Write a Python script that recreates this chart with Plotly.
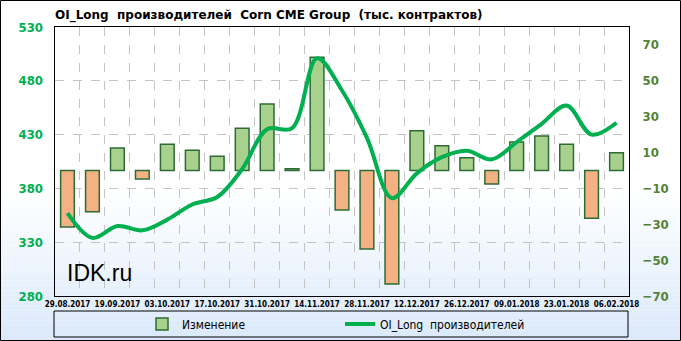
import plotly.graph_objects as go

# ---- data ----
dates = ["29.08.2017", "12.09.2017", "19.09.2017", "26.09.2017", "03.10.2017", "10.10.2017",
         "17.10.2017", "24.10.2017", "31.10.2017", "07.11.2017", "14.11.2017", "21.11.2017",
         "28.11.2017", "05.12.2017", "12.12.2017", "19.12.2017", "26.12.2017", "02.01.2018",
         "09.01.2018", "16.01.2018", "23.01.2018", "30.01.2018", "06.02.2018"]
change = [-31.5, -23.0, 12.5, -4.7, 14.6, 11.3, 7.9, 23.5, 37.1, 1.0, 63.1, -22.0,
          -43.8, -63.3, 22.2, 13.8, 7.1, -7.5, 15.9, 19.2, 14.6, -26.7, 9.9]
oi_long = [357, 334, 345, 341, 351, 365, 372, 398, 435, 436, 501, 471,
           427, 371, 394, 409, 415, 407, 423, 440, 457, 430, 441]
left_ticks = [280, 330, 380, 430, 480, 530]
right_ticks = [-70, -50, -30, -10, 10, 30, 50, 70]

W, H = 681, 341
ML, MR, MT, MB = 55, 52, 27, 45
PW, PH = W - ML - MR, H - MT - MB

def px(x):
    return (x - ML) / PW

def py(y):
    return (H - MB - y) / PH

xs = list(range(len(dates)))
pos_vals = [v if v >= 0 else None for v in change]
neg_vals = [v if v < 0 else None for v in change]

fig = go.Figure()
fig.add_trace(go.Bar(
    x=xs, y=pos_vals, name="Изменение", yaxis="y",
    marker=dict(color="#A9D18E", line=dict(color="#2E6B34", width=1.5)),
    width=0.55, legendgroup="chg",
))
fig.add_trace(go.Bar(
    x=xs, y=neg_vals, name="Изменение", yaxis="y", showlegend=False,
    marker=dict(color="#F4B183", line=dict(color="#2E6B34", width=1.5)),
    width=0.55, legendgroup="chg",
))
fig.add_trace(go.Scatter(
    x=xs, y=oi_long, name="OI_Long  производителей", yaxis="y2",
    mode="lines", line=dict(color="#00B050", width=4, shape="spline", smoothing=1.0),
))

# background gradient (decoration)
shapes = []
top_px, bot_px = 190, 341
n = 30
for i in range(n):
    y0 = top_px + (bot_px - top_px) * i / n
    y1 = top_px + (bot_px - top_px) * (i + 1) / n
    t = (i + 0.5) / n
    r = round(255 + (218 - 255) * t)
    g = round(255 + (233 - 255) * t)
    b = round(255 + (250 - 255) * t)
    shapes.append(dict(type="rect", xref="paper", yref="paper", layer="below",
                       x0=px(0), x1=px(W), y0=py(y1), y1=py(y0),
                       fillcolor=f"rgb({r},{g},{b})", line=dict(width=0)))
# outer frame
shapes.append(dict(type="rect", xref="paper", yref="paper", layer="above",
                   x0=px(0.5), x1=px(680.5), y0=py(340.5), y1=py(0.5),
                   line=dict(color="black", width=1)))
# legend frame
shapes.append(dict(type="rect", xref="paper", yref="paper", layer="above",
                   x0=px(54), x1=px(628), y0=py(337), y1=py(311),
                   line=dict(color="black", width=1)))

fig.update_layout(
    width=W, height=H,
    margin=dict(l=ML, r=MR, t=MT, b=MB, autoexpand=False),
    paper_bgcolor="white",
    plot_bgcolor="rgba(0,0,0,0)",
    font=dict(family="DejaVu Sans Condensed", color="black"),
    title=dict(text="<b>OI_Long  производителей  Corn CME Group  (тыс. контрактов)</b>",
               font=dict(family="DejaVu Sans", size=12, color="black"),
               xref="container", yref="container", x=55 / W, xanchor="left",
               y=1 - 15 / H, yanchor="middle"),
    xaxis=dict(range=[-0.5, len(dates) - 0.5],
               tickmode="array", tickvals=xs[::2], ticktext=dates[::2],
               tickfont=dict(family="DejaVu Sans Condensed", size=8, color="black", weight="bold"),
               showgrid=False, ticks="", ticklabelstandoff=0,
               showline=True, linecolor="black", linewidth=1, mirror=True,
               zeroline=False,
               minor=dict(tick0=0.5, dtick=1, showgrid=True, gridcolor="#C4C4C4",
                          griddash="dash", gridwidth=1)),
    yaxis=dict(range=[-70, 80], side="right", tickmode="array", tickvals=right_ticks,
               tickfont=dict(family="DejaVu Sans Condensed", size=13, color="#548235", weight="bold"),
               showgrid=False, zeroline=False, ticks="", ticklabelstandoff=10,
               showline=True, linecolor="black", linewidth=1, mirror=True),
    yaxis2=dict(range=[280, 530], side="left", overlaying="y", tickmode="array",
                tickvals=left_ticks,
                tickfont=dict(family="DejaVu Sans Condensed", size=13, color="#00B050", weight="bold"),
                showgrid=True, gridcolor="#C4C4C4", griddash="dash", gridwidth=1,
                zeroline=False, ticks="", ticklabelstandoff=11, showline=False),
    legend=dict(orientation="h", x=px(142), xanchor="left", y=py(324), yanchor="middle",
                bgcolor="rgba(0,0,0,0)", borderwidth=0,
                entrywidth=153, entrywidthmode="pixels",
                font=dict(family="DejaVu Sans Condensed", size=12, color="black")),
    showlegend=True,
    barmode="relative",
    shapes=shapes,
    annotations=[dict(text="IDK.ru", xref="paper", yref="paper", x=px(65), y=py(273),
                      xanchor="left", yanchor="middle", showarrow=False,
                      font=dict(family="Liberation Sans", size=23, color="black"))],
)

fig.write_html("out.html")
